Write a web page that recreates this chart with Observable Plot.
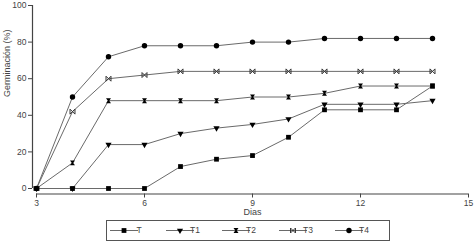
<!DOCTYPE html>
<html>
<head>
<meta charset="utf-8">
<script src="https://cdn.jsdelivr.net/npm/d3@7"></script>
<script src="https://cdn.jsdelivr.net/npm/@observablehq/plot@0.6"></script>
<style>
  body { margin: 0; background: #fff; }
  #chart { position: relative; width: 474px; height: 242px; }
  svg { font-family: "Liberation Sans", Arial, sans-serif; }
</style>
</head>
<body>
<div id="chart"></div>
<script>
const days = [3, 4, 5, 6, 7, 8, 9, 10, 11, 12, 13, 14];
const T  = [0, 0, 0, 0, 12, 16, 18, 28, 43, 43, 43, 56];
const T1 = [0, 0, 24, 24, 30, 33, 35, 38, 46, 46, 46, 48];
const T2 = [0, 14, 48, 48, 48, 48, 50, 50, 52, 56, 56, 56];
const T3 = [0, 42, 60, 62, 64, 64, 64, 64, 64, 64, 64, 64];
const T4 = [0, 50, 72, 78, 78, 78, 80, 80, 82, 82, 82, 82];
const seriesNames = ["T", "T1", "T2", "T3", "T4"];
const seriesValues = [T, T1, T2, T3, T4];
const xTicks = [3, 6, 9, 12, 15];
const yTicks = [0, 20, 40, 60, 80, 100];

const hourglass = {
  draw(context, size) {
    const s = Math.sqrt(size) / 2;
    context.moveTo(-s, -s); context.lineTo(s, -s); context.lineTo(s * 0.3, 0);
    context.lineTo(s, s); context.lineTo(-s, s); context.lineTo(-s * 0.3, 0);
    context.closePath();
  }
};
const bowtieX = {
  draw(context, size) {
    const s = Math.sqrt(size) / 2;
    context.moveTo(-s, -s); context.lineTo(s, s);
    context.moveTo(-s, s); context.lineTo(s, -s);
    context.moveTo(-s, -s); context.lineTo(-s, s);
    context.moveTo(s, -s); context.lineTo(s, s);
  }
};

const styles = {
  T:  {symbol: d3.symbolSquare, fill: "black", r: 2.7, rotate: 0},
  T1: {symbol: d3.symbolTriangle, fill: "black", r: 2.3, rotate: 180},
  T2: {symbol: hourglass, fill: "black", r: 2.8, rotate: 0},
  T3: {symbol: bowtieX, fill: "none", r: 2.8, rotate: 0},
  T4: {symbol: d3.symbolCircle, fill: "black", r: 2.7, rotate: 0}
};

const data = seriesNames.flatMap((name, i) =>
  days.map((d, j) => ({series: name, day: d, value: seriesValues[i][j]})));

const lineColor = "#6a6a6a";
const textColor = "#444";

const marks = [
  Plot.ruleX([3], {y1: 0, y2: 100, dx: -4, stroke: textColor, strokeWidth: 1.2}),
  Plot.ruleY([0], {x1: 3, x2: 15, dy: 5.5, stroke: textColor, strokeWidth: 1.2}),
  Plot.axisY(yTicks, {anchor: "left", dx: -4, tickSize: 4, tickPadding: 2, fontSize: 8.5, color: textColor, label: null}),
  Plot.axisX(xTicks, {anchor: "bottom", dy: 5.5, tickSize: 4, tickPadding: 1.5, fontSize: 8.5, color: textColor, label: null}),
  Plot.text(["Dias"], {frameAnchor: "bottom", dy: 26, fontSize: 9, fill: textColor}),
  Plot.text(["Germinación (%)"], {frameAnchor: "left", dx: -29, rotate: -90, fontSize: 9, fill: textColor}),
  Plot.line(data, {x: "day", y: "value", z: "series", stroke: lineColor, strokeWidth: 1})
];
for (const name of seriesNames) {
  const st = styles[name];
  const sub = data.filter(d => d.series === name);
  marks.push(Plot.dot(sub, {
    x: "day", y: "value", symbol: () => st.symbol, r: st.r, rotate: st.rotate,
    fill: st.fill, stroke: st.fill === "none" ? "#333" : null, strokeWidth: 1
  }));
}

const chart = Plot.plot({
  width: 474,
  height: 242,
  marginLeft: 36,
  marginRight: 6,
  marginTop: 5,
  marginBottom: 54,
  x: {domain: [3, 15]},
  y: {domain: [0, 100]},
  symbol: {type: "identity"},
  marks
});
document.getElementById("chart").appendChild(chart);

// legend
const svg = d3.select(chart);
const lg = svg.append("g");
lg.append("rect").attr("x", 106.5).attr("y", 220.5).attr("width", 283).attr("height", 20)
  .attr("fill", "white").attr("stroke", "#555").attr("stroke-width", 1);
const legendX = [110, 166, 222, 279, 335];
seriesNames.forEach((name, i) => {
  const st = styles[name];
  const x0 = legendX[i];
  const cy = 230.5;
  lg.append("line").attr("x1", x0).attr("x2", x0 + 28).attr("y1", cy).attr("y2", cy)
    .attr("stroke", lineColor).attr("stroke-width", 1);
  lg.append("path").attr("d", d3.symbol(st.symbol, Math.PI * st.r * st.r)())
    .attr("transform", `translate(${x0 + 14},${cy}) rotate(${st.rotate})`)
    .attr("fill", st.fill).attr("stroke", st.fill === "none" ? "#333" : null);
  lg.append("text").attr("x", x0 + 29).attr("y", cy).attr("dy", "0.35em")
    .attr("font-size", 8.5).attr("fill", textColor).text(name);
});
</script>
</body>
</html>
